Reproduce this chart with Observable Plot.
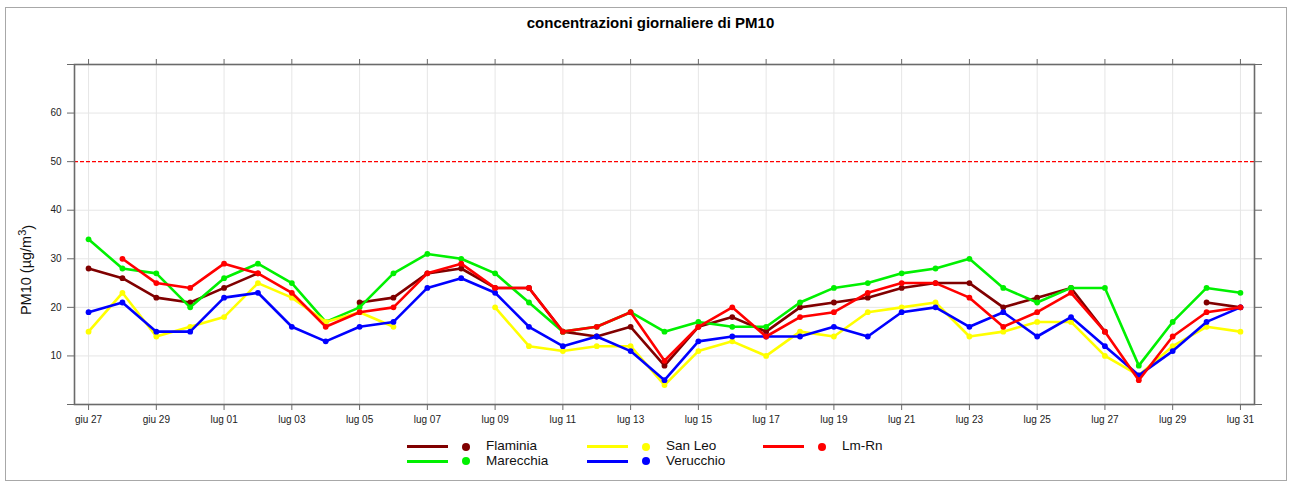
<!DOCTYPE html>
<html>
<head>
<meta charset="utf-8">
<script src="https://cdn.jsdelivr.net/npm/d3@7"></script>
<script src="https://cdn.jsdelivr.net/npm/@observablehq/plot@0.6"></script>
<style>
  html, body { margin: 0; padding: 0; background: #fff; }
  #wrap { position: relative; width: 1291px; height: 484px; font-family: "Liberation Sans", Arial, sans-serif; overflow: hidden; }
  #border { position: absolute; left: 5px; top: 7px; width: 1280px; height: 472px; border: 1px solid #a8a8a8; pointer-events: none; }
  #title { box-sizing: border-box; height: 50px; padding-top: 13px; line-height: 20px; width: 1301px; text-align: center; font-weight: bold; font-size: 15px; color: #000; }
  #chart svg { display: block; }
  .li { position: absolute; height: 14px; }
  .li .ln { position: absolute; top: 6px; width: 41px; height: 3px; }
  .li .dt { position: absolute; top: 3.5px; width: 8px; height: 8px; border-radius: 50%; }
  .li .tx { position: absolute; top: -2px; font-size: 13.5px; line-height: 18px; color: #111; white-space: nowrap; }
</style>
</head>
<body>
<div id="wrap">
  <div id="title">concentrazioni giornaliere di PM10</div>
  <div id="chart"></div>
  <div id="legend"></div>
  <div id="border"></div>
</div>
<script>
// ---- data ----
const dates = [
  "2023-06-27","2023-06-28","2023-06-29","2023-06-30",
  "2023-07-01","2023-07-02","2023-07-03","2023-07-04","2023-07-05","2023-07-06","2023-07-07",
  "2023-07-08","2023-07-09","2023-07-10","2023-07-11","2023-07-12","2023-07-13","2023-07-14",
  "2023-07-15","2023-07-16","2023-07-17","2023-07-18","2023-07-19","2023-07-20","2023-07-21",
  "2023-07-22","2023-07-23","2023-07-24","2023-07-25","2023-07-26","2023-07-27","2023-07-28",
  "2023-07-29","2023-07-30","2023-07-31"
];
const flaminia  = [28,26,22,21,24,27,null,null,21,22,27,28,24,24,15,14,16,8,16,18,15,20,21,22,24,25,25,20,22,24,15,null,null,21,20];
const marecchia = [34,28,27,20,26,29,25,17,20,27,31,30,27,21,15,16,19,15,17,16,16,21,24,25,27,28,30,24,21,24,24,8,17,24,23];
const sanLeo    = [15,23,14,16,18,25,22,17,19,16,null,null,20,12,11,12,12,4,11,13,10,15,14,19,20,21,14,15,17,17,10,6,12,16,15];
const verucchio = [19,21,15,15,22,23,16,13,16,17,24,26,23,16,12,14,11,5,13,14,14,14,16,14,19,20,16,19,14,18,12,6,11,17,20];
const lmRn      = [null,30,25,24,29,27,23,16,19,20,27,29,24,24,15,16,19,9,16,20,14,18,19,23,25,25,22,16,19,23,15,5,14,19,20];

const stationNames  = ["Flaminia","Marecchia","San Leo","Verucchio","Lm-Rn"];
const stationColors = ["#800000","#00f000","#ffff00","#0000ff","#ff0000"];
const stationValues = [flaminia, marecchia, sanLeo, verucchio, lmRn];

const monthAbbr = ["gen","feb","mar","apr","mag","giu","lug","ago","set","ott","nov","dic"];
const yTicks = [0,10,20,30,40,50,60,70];
const yLabeled = [10,20,30,40,50,60];
const yGrid = [10,20,30,40,60];
const limitValue = 50;

// ---- build ----
const parse = d3.utcParse("%Y-%m-%d");
const X = dates.map(parse);
const tickDates = X.filter((d, i) => i % 2 === 0);
const fmtDate = d => monthAbbr[d.getUTCMonth()] + " " + String(d.getUTCDate()).padStart(2, "0");
const pad = 0.415 * 864e5;

const rows = stationNames.flatMap((name, s) =>
  stationValues[s].map((v, i) => ({date: X[i], value: v == null ? NaN : v, station: name})));

const seriesMarks = stationNames.flatMap((name, s) => {
  const d = rows.filter(r => r.station === name);
  return [
    Plot.line(d, {x: "date", y: "value", stroke: stationColors[s], strokeWidth: 2.6}),
    Plot.dot(d.filter(r => !isNaN(r.value)), {x: "date", y: "value", fill: stationColors[s], r: 2.9, stroke: "none"})
  ];
});

const axisColor = "#6a6a6a";
const chart = Plot.plot({
  width: 1291,
  height: 390,
  marginLeft: 74,
  marginRight: 37,
  marginTop: 14,
  marginBottom: 36,
  style: {fontFamily: "'Liberation Sans', Arial, sans-serif", fontSize: "10px", background: "white", color: "#222"},
  x: {type: "utc", domain: [new Date(+X[0] - pad), new Date(+X[X.length - 1] + pad)]},
  y: {domain: [0, 70]},
  marks: [
    Plot.gridX({ticks: tickDates, stroke: "#e6e6e6", strokeOpacity: 1, strokeWidth: 1}),
    Plot.gridY({ticks: yGrid, stroke: "#e6e6e6", strokeOpacity: 1, strokeWidth: 1}),
    Plot.ruleY([limitValue], {stroke: "#ff0000", strokeOpacity: 1, strokeWidth: 1.3, strokeDasharray: "4,2"}),
    ...seriesMarks,
    Plot.frame({stroke: axisColor, strokeWidth: 1.6}),
    Plot.axisX({anchor: "bottom", ticks: tickDates, tickFormat: fmtDate, tickSize: 6, tickPadding: 5, label: null, stroke: axisColor, fill: "#222"}),
    Plot.axisX({anchor: "top", ticks: tickDates, tickFormat: () => "", tickSize: 6, label: null, stroke: axisColor}),
    Plot.axisY({anchor: "left", ticks: yTicks, tickFormat: d => yLabeled.includes(d) ? String(d) : "", tickSize: 7, tickPadding: 6, label: null, stroke: axisColor, fill: "#222"}),
    Plot.axisY({anchor: "right", ticks: yTicks, tickFormat: () => "", tickSize: 7, label: null, stroke: axisColor})
  ]
});
document.getElementById("chart").appendChild(chart);

// y-axis title with superscript
const svg = d3.select(chart);
const yl = svg.append("text")
  .attr("transform", "translate(31,220) rotate(-90)")
  .attr("text-anchor", "middle")
  .attr("fill", "#111")
  .style("font-size", "14.5px")
  .style("font-family", "'Liberation Sans', Arial, sans-serif");
yl.append("tspan").text("PM10 (µg/m");
yl.append("tspan").attr("dy", "-0.45em").style("font-size", "11px").text("3");
yl.append("tspan").attr("dy", "0.45em").text(")");

// ---- legend ----
const colX = [407, 587, 763];
stationNames.forEach((name, s) => {
  const col = Math.floor(s / 2), row = s % 2;
  const item = document.createElement("div");
  item.className = "li";
  item.style.left = colX[col] + "px";
  item.style.top = (439 + row * 14.5) + "px";
  item.innerHTML =
    `<div class="ln" style="left:0;background:${stationColors[s]}"></div>` +
    `<div class="dt" style="left:55px;background:${stationColors[s]}"></div>` +
    `<div class="tx" style="left:79px">${name}</div>`;
  document.getElementById("wrap").appendChild(item);
});
</script>
</body>
</html>
